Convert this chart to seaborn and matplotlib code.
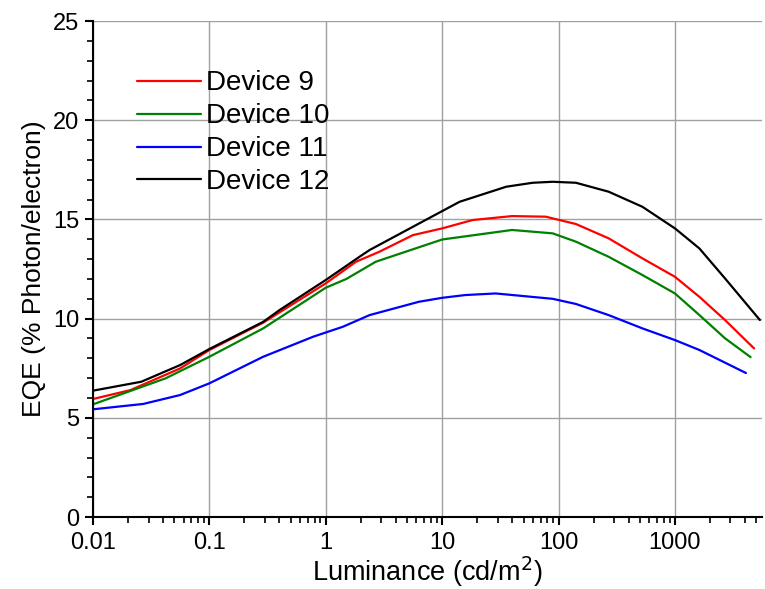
import numpy as np
import pandas as pd
import matplotlib
matplotlib.use("Agg")
import matplotlib.pyplot as plt
import matplotlib.ticker as mticker
import seaborn as sns

# ---- data ----
lum_d9 = [0.01, 0.021, 0.056, 0.1, 0.29, 1.0, 1.82, 2.88, 5.6, 10, 18.2, 39.8, 77.6, 141, 269, 525, 1000, 1622, 2692, 4786]
eqe_d9 = [5.95, 6.4, 7.49, 8.42, 9.8, 11.78, 12.87, 13.37, 14.21, 14.55, 14.97, 15.17, 15.14, 14.77, 14.05, 13.04, 12.11, 11.1, 9.93, 8.5]

lum_d10 = [0.01, 0.042, 0.1, 0.29, 1.0, 1.5, 2.69, 10, 39.8, 89, 141, 269, 525, 1000, 1622, 2692, 4467]
eqe_d10 = [5.68, 6.99, 8.08, 9.51, 11.56, 12.0, 12.87, 13.99, 14.47, 14.3, 13.88, 13.12, 12.2, 11.27, 10.18, 9.01, 8.06]

lum_d11 = [0.01, 0.027, 0.056, 0.1, 0.29, 0.78, 1.4, 2.38, 6.3, 10, 15.8, 28.8, 89, 141, 269, 525, 1000, 1622, 4074]
eqe_d11 = [5.43, 5.70, 6.15, 6.74, 8.08, 9.09, 9.59, 10.18, 10.85, 11.05, 11.19, 11.27, 11.0, 10.74, 10.18, 9.51, 8.92, 8.42, 7.26]

lum_d12 = [0.01, 0.026, 0.056, 0.1, 0.29, 0.40, 1.0, 1.95, 2.38, 5.6, 14.1, 35.5, 60, 89, 141, 269, 525, 1000, 1622, 2692, 5370]
eqe_d12 = [6.37, 6.82, 7.66, 8.47, 9.84, 10.43, 11.95, 13.12, 13.46, 14.63, 15.89, 16.65, 16.85, 16.9, 16.85, 16.4, 15.64, 14.55, 13.54, 12.03, 9.93]

devices = ["Device 9", "Device 10", "Device 11", "Device 12"]
colors = ["#ff0000", "#008000", "#0000ff", "#000000"]
x_tick_vals = [0.01, 0.1, 1, 10, 100, 1000]
x_tick_labels = ["0.01", "0.1", "1", "10", "100", "1000"]
y_tick_vals = [0, 5, 10, 15, 20, 25]

frames = []
for name, lx, ly in zip(devices, [lum_d9, lum_d10, lum_d11, lum_d12],
                        [eqe_d9, eqe_d10, eqe_d11, eqe_d12]):
    frames.append(pd.DataFrame({"Luminance": lx, "EQE": ly, "Device": name}))
df = pd.concat(frames, ignore_index=True)

sns.set_style("ticks")
plt.rcParams["font.family"] = ["Liberation Sans", "DejaVu Sans"]
plt.rcParams["text.color"] = "black"
plt.rcParams["axes.labelcolor"] = "black"

fig = plt.figure(figsize=(7.65, 5.89), dpi=100)
ax = fig.add_axes([0.1216, 0.1222, 0.8745, 0.842])

sns.lineplot(data=df, x="Luminance", y="EQE", hue="Device", hue_order=devices,
             palette=colors, estimator=None, sort=True, linewidth=1.6, ax=ax)

ax.set_xscale("log")
ax.set_xlim(0.01, 5600)
ax.set_ylim(0, 25)
ax.set_xticks(x_tick_vals)
ax.set_xticklabels(x_tick_labels)
ax.xaxis.set_minor_locator(mticker.LogLocator(base=10, subs=np.arange(2, 10), numticks=20))
ax.xaxis.set_minor_formatter(mticker.NullFormatter())
ax.set_yticks(y_tick_vals)
ax.yaxis.set_minor_locator(mticker.MultipleLocator(1))

ax.grid(True, which="major", color="#a0a0a0", linewidth=1.0)
ax.set_axisbelow(True)

for s in ["top", "right"]:
    ax.spines[s].set_visible(False)
for s in ["left", "bottom"]:
    ax.spines[s].set_color("black")
    ax.spines[s].set_linewidth(1.5)

ax.tick_params(which="major", direction="out", length=6, width=1.5, labelsize=17,
               colors="black", labelcolor="black", pad=4)
ax.tick_params(axis="x", which="major", pad=5)
ax.tick_params(which="minor", direction="out", length=4, width=1.2, colors="black")

ax.set_xlabel("Luminance (cd/m$^2$)", fontsize=19.5, labelpad=0, color="black")
ax.set_ylabel("EQE (% Photon/electron)", fontsize=19, labelpad=5, color="black")

leg = ax.legend(loc="upper left", bbox_to_anchor=(0.049, 0.923), frameon=False,
                fontsize=20, handlelength=2.3, handletextpad=0.2, labelspacing=0.25,
                borderaxespad=0)
for line in leg.get_lines():
    line.set_linewidth(1.6)
for t in leg.get_texts():
    t.set_color("black")

fig.savefig("out.png", dpi=100)
